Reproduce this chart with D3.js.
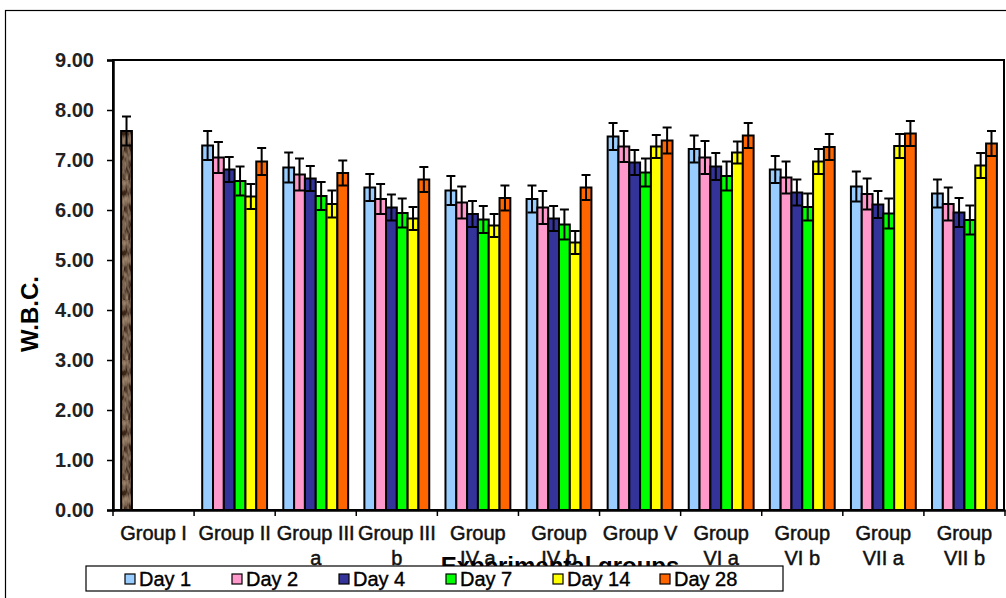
<!DOCTYPE html>
<html>
<head>
<meta charset="utf-8">
<script src="https://cdn.jsdelivr.net/npm/d3@7"></script>
<style>
  body { margin: 0; background: #fff; }
  svg { display: block; font-family: "Liberation Sans", Arial, sans-serif; }
</style>
</head>
<body>
<div id="chart"></div>
<script>
const width = 1006, height = 598;
const margin = { top: 60, right: 1, bottom: 88, left: 113 };
const innerWidth = width - margin.left - margin.right;
const innerHeight = height - margin.top - margin.bottom;

// categories
const groups = ["Group I", "Group II", "Group III a", "Group III b", "Group IV a", "Group IV b",
  "Group V", "Group VI a", "Group VI b", "Group VII a", "Group VII b"];
const groupLabels = [["Group I"], ["Group II"], ["Group III", "a"], ["Group III", "b"], ["Group", "IV a"],
  ["Group", "IV b"], ["Group V"], ["Group", "VI a"], ["Group", "VI b"], ["Group", "VII a"], ["Group", "VII b"]];
const days = ["Day 1", "Day 2", "Day 4", "Day 7", "Day 14", "Day 28"];
const dayColors = ["#99ccff", "#ff99cc", "#333399", "#00ff00", "#ffff00", "#ff6600"];
const yTicks = [0, 1, 2, 3, 4, 5, 6, 7, 8, 9];

// control (Group I)
const controlValue = 7.58;
const controlErr = 0.29;

// means per treated group (Group II .. Group VII b), one row per day
const day1  = [7.29, 6.85, 6.45, 6.39, 6.22, 7.47, 7.22, 6.81, 6.47, 6.33];
const day2  = [7.05, 6.71, 6.22, 6.15, 6.05, 7.27, 7.05, 6.65, 6.32, 6.12];
const day4  = [6.81, 6.63, 6.05, 5.92, 5.83, 6.95, 6.87, 6.35, 6.11, 5.95];
const day7  = [6.58, 6.28, 5.94, 5.81, 5.71, 6.75, 6.68, 6.06, 5.93, 5.80];
const day14 = [6.27, 6.12, 5.83, 5.69, 5.35, 7.27, 7.15, 6.97, 7.28, 6.89];
const day28 = [6.97, 6.74, 6.61, 6.24, 6.45, 7.39, 7.49, 7.26, 7.53, 7.33];

// error (SE) per day
const err1  = [0.29, 0.30, 0.27, 0.29, 0.27, 0.27, 0.27, 0.27, 0.30, 0.28];
const err2  = [0.31, 0.32, 0.30, 0.32, 0.33, 0.31, 0.33, 0.32, 0.31, 0.33];
const err4  = [0.25, 0.25, 0.26, 0.26, 0.25, 0.25, 0.27, 0.26, 0.27, 0.29];
const err7  = [0.29, 0.28, 0.29, 0.27, 0.30, 0.28, 0.29, 0.27, 0.30, 0.29];
const err14 = [0.25, 0.27, 0.23, 0.23, 0.23, 0.23, 0.22, 0.25, 0.24, 0.25];
const err28 = [0.27, 0.25, 0.25, 0.25, 0.25, 0.26, 0.25, 0.26, 0.25, 0.25];

const seriesVals = [day1, day2, day4, day7, day14, day28];
const seriesErrs = [err1, err2, err4, err7, err14, err28];

const bars = [];
bars.push({ group: groups[0], day: days[0], value: controlValue, err: controlErr, control: true });
groups.slice(1).forEach((g, gi) => {
  days.forEach((d, di) => {
    bars.push({ group: g, day: d, value: seriesVals[di][gi], err: seriesErrs[di][gi] });
  });
});

const svg = d3.select("#chart").append("svg")
  .attr("width", width).attr("height", height);

// wood-like texture for control bar
const defs = svg.append("defs");
const filt = defs.append("filter").attr("id", "grain").attr("x", 0).attr("y", 0).attr("width", 1).attr("height", 1);
filt.append("feTurbulence").attr("type", "fractalNoise").attr("baseFrequency", "0.35 0.12").attr("numOctaves", 2).attr("seed", 5).attr("result", "n");
filt.append("feColorMatrix").attr("in", "n").attr("type", "matrix")
  .attr("values", "0 0 0 0 0.55  0 0 0 0 0.38  0 0 0 0 0.25  1.2 0 0 0 -0.35").attr("result", "c");
filt.append("feComposite").attr("in", "c").attr("in2", "SourceGraphic").attr("operator", "over");
const pat = defs.append("pattern").attr("id", "brown").attr("patternUnits", "userSpaceOnUse")
  .attr("width", 40).attr("height", 60);
pat.append("rect").attr("width", 40).attr("height", 60).attr("fill", "#3d2719").attr("filter", "url(#grain)");

// outer frame
svg.append("rect").attr("x", 5.5).attr("y", 10.5).attr("width", width + 10).attr("height", height + 10)
  .attr("fill", "none").attr("stroke", "#000").attr("stroke-width", 1.2);

const x = d3.scaleBand().domain(groups).range([margin.left, margin.left + innerWidth]).padding(0);
const xSub = d3.scaleBand().domain(days).range([x.bandwidth() * 0.1, x.bandwidth() * 0.9]).padding(0);
const y = d3.scaleLinear().domain([0, 9]).range([margin.top + innerHeight, margin.top]);

const chart = svg.append("g");

// plot border
chart.append("rect")
  .attr("x", margin.left).attr("y", margin.top)
  .attr("width", innerWidth - 1).attr("height", innerHeight)
  .attr("fill", "none").attr("stroke", "#000").attr("stroke-width", 2);

// bars
chart.append("g").selectAll("rect").data(bars).join("rect")
  .attr("x", d => x(d.group) + xSub(d.day))
  .attr("y", d => y(d.value))
  .attr("width", xSub.bandwidth())
  .attr("height", d => y(0) - y(d.value))
  .attr("fill", d => d.control ? "url(#brown)" : dayColors[days.indexOf(d.day)])
  .attr("stroke", "#000").attr("stroke-width", 2);

// error bars
const capW = 9;
const eb = chart.append("g").attr("stroke", "#000").attr("stroke-width", 2).attr("fill", "none");
bars.forEach(d => {
  const cx = x(d.group) + xSub(d.day) + xSub.bandwidth() / 2;
  eb.append("line").attr("x1", cx).attr("x2", cx).attr("y1", y(d.value - d.err)).attr("y2", y(d.value + d.err));
  eb.append("line").attr("x1", cx - capW / 2).attr("x2", cx + capW / 2).attr("y1", y(d.value + d.err)).attr("y2", y(d.value + d.err));
  eb.append("line").attr("x1", cx - capW / 2).attr("x2", cx + capW / 2).attr("y1", y(d.value - d.err)).attr("y2", y(d.value - d.err));
});

// y axis
const yAxis = chart.append("g")
  .attr("transform", `translate(${margin.left},0)`)
  .call(d3.axisLeft(y).tickValues(yTicks).tickFormat(d3.format(".2f")).tickSize(6).tickPadding(13));
yAxis.select(".domain").attr("stroke-width", 2.5);
yAxis.selectAll(".tick line").attr("stroke-width", 1.5);
yAxis.selectAll(".tick text").attr("font-size", 20).attr("font-weight", "bold")
  .attr("font-family", "Liberation Sans, Arial, sans-serif").attr("fill", "#222");

// x axis
const xAxis = chart.append("g")
  .attr("transform", `translate(0,${margin.top + innerHeight})`)
  .call(d3.axisBottom(x).tickSize(0).tickFormat(""));
xAxis.select(".domain").attr("stroke-width", 2.5);
xAxis.append("g").selectAll("line").data(groups.concat(["end"])).join("line")
  .attr("x1", (d, i) => margin.left + i * x.bandwidth())
  .attr("x2", (d, i) => margin.left + i * x.bandwidth())
  .attr("y1", 0).attr("y2", 6).attr("stroke", "#000").attr("stroke-width", 1.5);

// axis titles (x title sits under the legend box)
svg.append("text")
  .attr("transform", `translate(38,314) rotate(-90)`)
  .attr("text-anchor", "middle")
  .attr("font-size", 24).attr("font-weight", "bold")
  .text("W.B.C.");

svg.append("text")
  .attr("x", 560).attr("y", 574)
  .attr("text-anchor", "middle")
  .attr("font-size", 24).attr("font-weight", "bold")
  .text("Experimental groups");

const xl = chart.append("g").selectAll("text").data(groups).join("text")
  .attr("x", d => x(d) + x.bandwidth() / 2)
  .attr("y", margin.top + innerHeight + 30)
  .attr("text-anchor", "middle")
  .attr("font-size", 20).attr("fill", "#111")
  .attr("stroke", "#111").attr("stroke-width", 0.5);
xl.each(function (d, i) {
  const t = d3.select(this);
  groupLabels[i].forEach((line, li) => {
    t.append("tspan").attr("x", x(d) + x.bandwidth() / 2).attr("dy", li === 0 ? 0 : 25).text(line);
  });
});

// legend
const legend = svg.append("g").attr("transform", "translate(86,566)");
legend.append("rect").attr("width", 697).attr("height", 25)
  .attr("fill", "#fff").attr("stroke", "#000").attr("stroke-width", 1.2);
days.forEach((d, i) => {
  const g = legend.append("g").attr("transform", `translate(${39 + i * 107},0)`);
  g.append("rect").attr("x", 0).attr("y", 8).attr("width", 10).attr("height", 10)
    .attr("fill", dayColors[i]).attr("stroke", "#000").attr("stroke-width", 1.2);
  g.append("text").attr("x", 14).attr("y", 20).attr("font-size", 20).attr("fill", "#000")
    .attr("stroke", "#000").attr("stroke-width", 0.4).text(d);
});
</script>
</body>
</html>
